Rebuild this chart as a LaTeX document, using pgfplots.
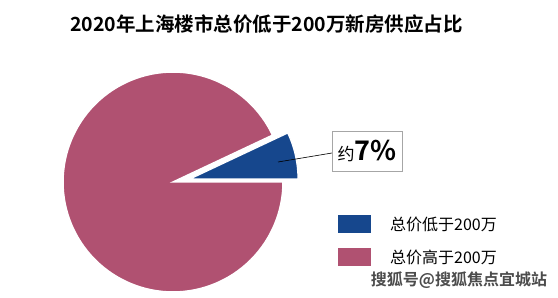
\documentclass[border=0pt]{standalone}
\usepackage{pgfplots}
\usepackage{pgfplotstable}
\pgfplotsset{compat=1.18}
\usepackage{fontspec}
\setmainfont{Noto Sans CJK SC}[BoldFont={Noto Sans CJK SC Bold}]
\definecolor{pieblue}{RGB}{22,71,141}
\definecolor{piepink}{RGB}{176,81,113}
\pgfplotstableread{
label value
low 7
high 93
}\piedata
\begin{document}
\begin{tikzpicture}
\pgfplotstablegetelem{0}{value}\of\piedata
\pgfmathsetmacro\angA{\pgfplotsretval*3.6}
\begin{axis}[
  scale only axis, width=558bp, height=298bp,
  xmin=0, xmax=558, ymin=0, ymax=298,
  hide axis, clip=false,
  legend style={at={(338/558,83/298)}, anchor=north west, draw=none, fill=none,
    inner sep=0pt, row sep=15bp,
    nodes={inner sep=0pt, font=\fontsize{16bp}{18bp}\selectfont},
    /tikz/every even column/.append style={column sep=0bp},
  },
  legend cell align=left,
  legend image code/.code={\path[#1, draw=none] (0bp,-9bp) rectangle (33bp,9bp);},
]
\path (axis cs:0,0) rectangle (axis cs:558,298);
% high share (pink), centred at (173,116)
\addplot[fill=piepink, draw=white, line width=1.5bp, domain=\angA:360, samples=120, variable=\t, forget plot]
  ({173+110*cos(t)}, {116+110*sin(t)}) -- (axis cs:173,116) -- cycle;
% low share (blue), exploded
\addplot[fill=pieblue, draw=white, line width=1.2bp, domain=0:\angA, samples=30, variable=\t, forget plot]
  ({190+108*cos(t)}, {119+108*sin(t)}) -- (axis cs:190,119) -- cycle;
% legend entries
\addlegendimage{fill=pieblue}
\addlegendentry{\hspace{19bp}总价低于200万}
\addlegendimage{fill=piepink}
\addlegendentry{\hspace{19bp}总价高于200万}
% label
\draw[black, line width=0.6bp] (axis cs:278,136) -- (axis cs:332,145);
\node[draw=gray!70, fill=white, line width=0.8bp, minimum width=70bp, minimum height=40bp, inner sep=0pt]
  at (axis cs:367,147) {\fontsize{17bp}{20bp}\selectfont 约\fontsize{27bp}{30bp}\selectfont\bfseries 7\%};
% title
\node at (axis cs:266.5,274) {\fontsize{19.5bp}{24bp}\selectfont\bfseries 2020年上海楼市总价低于200万新房供应占比};
% watermark
\node[text=black!70] at (axis cs:459,18) {\fontsize{16bp}{18bp}\selectfont\bfseries 搜狐号@搜狐焦点宜城站};
\end{axis}
\end{tikzpicture}
\end{document}
